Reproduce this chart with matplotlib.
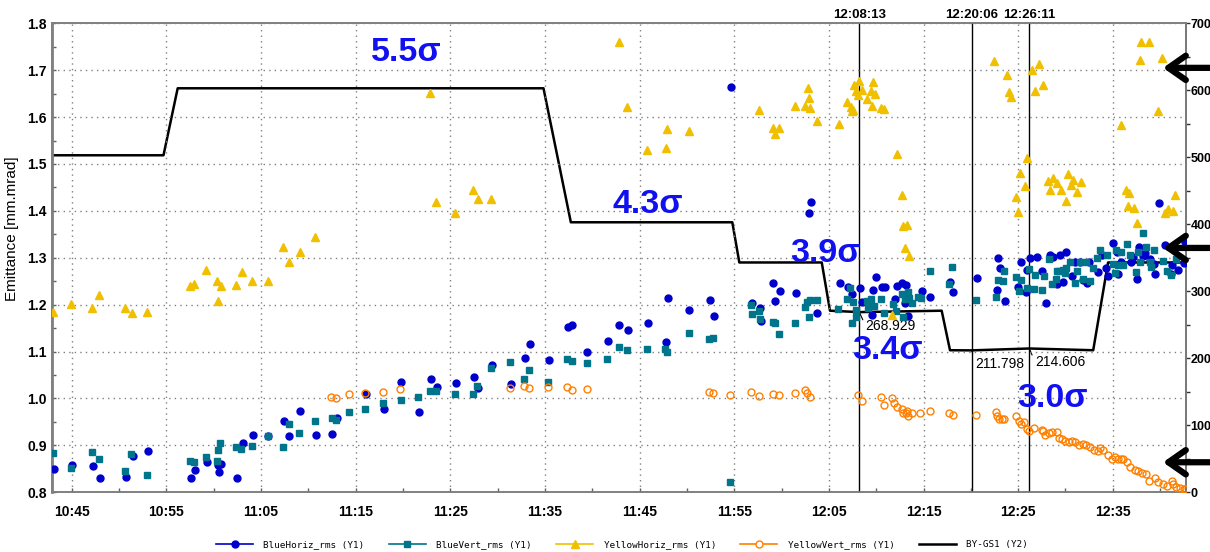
import matplotlib
matplotlib.use("Agg")
import matplotlib.pyplot as plt
from matplotlib.lines import Line2D
from matplotlib.ticker import MultipleLocator, FuncFormatter
import matplotlib.transforms as mtransforms

# Time axis: minutes past 10:00
blue_h_min = [43.1, 45.05, 47.27, 48.04, 50.75, 51.45, 53.07, 57.65, 58.04, 59.3, 60.42, 60.53, 60.81,
              62.5, 63.06, 64.12, 65.75, 67.43, 68.0, 69.16, 70.81, 72.54, 73.06, 76.09, 78.0, 79.82,
              81.65, 82.92, 83.62, 85.56, 87.5, 87.95, 89.4, 91.44, 92.92, 93.41, 95.45, 97.42, 97.91,
              99.49, 101.65, 102.87, 103.76, 105.87, 107.8, 107.98, 110.23, 112.45, 112.87, 114.64,
              116.92, 117.73, 117.84, 119.14, 119.35, 119.81, 121.5, 122.87, 123.08, 123.8, 126.13,
              127.03, 127.45, 128.24, 128.53, 129.2, 129.61, 129.63, 129.93, 130.65, 130.9, 131.99,
              132.22, 132.76, 133.04, 133.18, 133.39, 134.79, 135.71, 137.8, 138.16, 140.68, 142.72,
              142.86, 143.07, 143.6, 144.97, 145.32, 145.79, 145.89, 146.27, 146.95, 147.54, 147.93,
              148.35, 148.7, 149.15, 149.38, 149.76, 150.04, 150.68, 151.03, 151.52, 151.81, 152.29,
              152.44, 153.45, 153.81, 154.24, 154.51, 155.01, 155.4, 155.57, 155.88, 156.94, 157.12,
              157.51, 157.78, 158.14, 158.42, 158.91, 159.37, 159.51, 159.86, 160.5, 161.2, 161.27,
              161.9, 162.47, 162.64]
blue_h_val = [0.849, 0.858, 0.855, 0.831, 0.833, 0.877, 0.888, 0.831, 0.847, 0.864, 0.858, 0.843, 0.861,
              0.831, 0.904, 0.922, 0.921, 0.951, 0.919, 0.974, 0.922, 0.925, 0.959, 1.010, 0.978, 1.035,
              0.971, 1.042, 1.025, 1.032, 1.046, 1.022, 1.072, 1.031, 1.086, 1.117, 1.081, 1.152, 1.156,
              1.099, 1.123, 1.156, 1.145, 1.160, 1.121, 1.215, 1.189, 1.209, 1.176, 1.665,
              1.203, 1.192, 1.165, 1.246, 1.207, 1.229, 1.225, 1.395, 1.420, 1.182, 1.246,
              1.238, 1.223, 1.235, 1.206, 1.197, 1.178, 1.231, 1.258, 1.238, 1.238, 1.213,
              1.240, 1.246, 1.204, 1.243, 1.175, 1.229, 1.217, 1.249, 1.226, 1.256, 1.231,
              1.299, 1.278, 1.207, 1.237, 1.290, 1.226, 1.275, 1.300, 1.302, 1.272, 1.203,
              1.307, 1.302, 1.245, 1.305, 1.248, 1.312, 1.262, 1.291, 1.292, 1.252, 1.247,
              1.292, 1.270, 1.307, 1.278, 1.261, 1.332, 1.313, 1.266, 1.290, 1.291, 1.302,
              1.255, 1.322, 1.304, 1.311, 1.297, 1.287, 1.265, 1.416, 1.328, 1.265, 1.285,
              1.273, 1.288, 1.334]

blue_v_min = [43.0, 44.94, 47.19, 47.93, 50.65, 51.31, 52.97, 57.54, 57.89, 59.2, 60.36, 60.42, 60.71,
              62.4, 62.93, 64.06, 65.7, 67.33, 67.92, 69.05, 70.71, 72.46, 72.96, 74.33, 76.02, 77.89,
              79.75, 81.58, 82.81, 83.49, 85.45, 87.39, 87.85, 89.29, 91.36, 92.81, 93.31, 95.31, 97.35,
              97.85, 99.43, 101.54, 102.81, 103.69, 105.8, 107.73, 107.91, 110.2, 112.38, 112.77,
              114.53, 116.81, 116.92, 117.62, 117.7, 119.05, 119.26, 119.74, 121.4, 122.45, 122.69,
              122.85, 123.01, 123.73, 126.0, 126.92, 127.24, 127.45, 127.55, 127.82, 127.9, 129.06,
              129.1, 129.42, 129.77, 130.51, 130.83, 131.78, 132.06, 132.72, 132.8, 133.07, 133.36,
              133.5, 133.78, 134.41, 134.7, 135.65, 137.69, 138.04, 140.54, 142.62, 142.9, 143.39,
              143.53, 144.8, 145.05, 145.26, 145.93, 146.17, 146.66, 146.77, 147.48, 147.72, 148.22,
              148.53, 148.96, 149.07, 149.34, 149.69, 149.94, 150.01, 150.5, 151.02, 151.17, 151.52,
              151.81, 152.12, 152.58, 152.93, 153.35, 153.67, 154.4, 155.04, 155.22, 155.32, 155.57,
              155.82, 156.06, 156.45, 156.83, 157.43, 157.64, 157.85, 158.2, 158.49, 158.91, 159.02,
              159.37, 160.32, 160.68, 161.2, 161.73]
blue_v_val = [0.884, 0.852, 0.886, 0.870, 0.845, 0.882, 0.837, 0.867, 0.864, 0.876, 0.866, 0.890, 0.904,
              0.896, 0.892, 0.898, 0.921, 0.896, 0.945, 0.927, 0.953, 0.958, 0.954, 0.972, 0.978, 0.990,
              0.996, 1.003, 1.015, 1.017, 1.009, 1.009, 1.027, 1.064, 1.078, 1.041, 1.060, 1.035, 1.084,
              1.080, 1.076, 1.084, 1.110, 1.103, 1.106, 1.106, 1.100, 1.140, 1.127, 1.130,
              0.821, 1.199, 1.180, 1.187, 1.170, 1.164, 1.160, 1.137, 1.160, 1.195, 1.205,
              1.174, 1.211, 1.211, 1.191, 1.213, 1.235, 1.162, 1.206, 1.174, 1.189, 1.208,
              1.192, 1.212, 1.197, 1.212, 1.182, 1.202, 1.187, 1.223, 1.174, 1.213, 1.226,
              1.214, 1.203, 1.216, 1.214, 1.271, 1.244, 1.281, 1.211, 1.217, 1.253, 1.251,
              1.272, 1.258, 1.229, 1.252, 1.235, 1.277, 1.233, 1.263, 1.232, 1.262, 1.298,
              1.244, 1.254, 1.271, 1.272, 1.275, 1.267, 1.278, 1.292, 1.247, 1.272, 1.292,
              1.255, 1.291, 1.251, 1.279, 1.299, 1.317, 1.305, 1.286, 1.268, 1.317, 1.285,
              1.312, 1.285, 1.330, 1.307, 1.270, 1.312, 1.290, 1.353, 1.322, 1.290, 1.281,
              1.317, 1.294, 1.272, 1.263, 1.297]

yellow_h_min = [43.0, 44.97, 47.19, 47.93, 50.68, 51.38, 53.0, 57.54, 57.96, 59.2, 60.39, 60.5, 60.74,
                62.4, 62.98, 64.06, 65.7, 67.33, 67.92, 69.08, 70.74, 82.85, 83.52, 85.45, 87.42, 87.88,
                89.32, 102.81, 103.69, 105.8, 107.77, 107.91, 110.2, 117.66, 119.07, 119.28, 119.77,
                121.43, 122.5, 122.77, 122.87, 123.06, 123.75, 126.07, 126.92, 127.34, 127.48, 127.6,
                127.63, 127.84, 128.1, 128.23, 128.5, 129.05, 129.42, 129.59, 129.64, 129.84, 130.49,
                130.8, 131.67, 132.2, 132.73, 132.8, 133.23, 133.03, 133.43, 142.48, 143.87, 144.05,
                144.26, 144.74, 144.94, 145.24, 145.72, 145.9, 146.51, 146.77, 147.23, 147.64, 148.12,
                148.33, 148.69, 149.12, 149.57, 150.02, 150.24, 150.55, 150.84, 151.23, 151.65, 155.91,
                156.44, 156.75, 156.65, 157.21, 157.56, 157.91, 157.99, 158.79, 159.78, 160.2, 160.55,
                160.84, 161.32, 161.61]
yellow_h_val = [1.185, 1.202, 1.193, 1.221, 1.192, 1.182, 1.185, 1.240, 1.245, 1.274, 1.250, 1.207, 1.239,
                1.243, 1.270, 1.251, 1.251, 1.324, 1.290, 1.313, 1.344, 1.651, 1.420, 1.395, 1.444, 1.425,
                1.425, 1.760, 1.622, 1.529, 1.534, 1.575, 1.571, 1.615, 1.577, 1.565, 1.577,
                1.623, 1.624, 1.661, 1.640, 1.620, 1.591, 1.585, 1.632, 1.622, 1.612, 1.616,
                1.669, 1.655, 1.647, 1.677, 1.657, 1.638, 1.656, 1.624, 1.675, 1.649, 1.620,
                1.618, 1.177, 1.521, 1.433, 1.368, 1.369, 1.320, 1.304, 1.720, 1.690, 1.654,
                1.643, 1.430, 1.398, 1.481, 1.454, 1.513, 1.700, 1.656, 1.713, 1.668, 1.464,
                1.445, 1.470, 1.460, 1.445, 1.421, 1.479, 1.456, 1.466, 1.440, 1.462, 1.584,
                1.445, 1.438, 1.411, 1.406, 1.375, 1.722, 1.761, 1.760, 1.613, 1.726, 1.395,
                1.404, 1.400, 1.434]

yellow_v_min = [72.43, 72.96, 74.3, 76.02, 77.89, 79.72, 91.36, 92.74, 93.31, 95.31, 97.35, 97.85, 99.43,
                112.38, 112.77, 114.53, 116.81, 117.62, 119.07, 119.7, 121.39, 122.43, 122.73, 123.04,
                128.05, 128.47, 130.48, 130.79, 131.64, 131.85, 132.16, 132.69, 132.86, 133.18, 133.29,
                133.39, 133.81, 134.63, 135.65, 137.69, 138.08, 140.57, 142.62, 142.79, 143.0, 143.28,
                143.53, 144.8, 145.05, 145.26, 145.64, 145.89, 146.17, 146.7, 147.48, 147.65, 147.86,
                148.28, 148.6, 149.06, 149.34, 149.65, 149.94, 150.33, 150.64, 151.02, 151.45, 151.81,
                152.16, 152.58, 153.0, 153.39, 153.6, 153.98, 154.48, 154.9, 155.25, 155.5, 155.85,
                156.03, 156.52, 156.87, 157.33, 157.68, 158.04, 158.49, 158.84, 159.41, 159.73, 160.32,
                160.74, 161.24, 161.37, 161.73, 162.08, 162.5, 162.64]
yellow_v_val = [1.003, 1.002, 1.010, 1.012, 1.014, 1.020, 1.023, 1.027, 1.022, 1.025, 1.025, 1.019, 1.020,
                1.013, 1.011, 1.007, 1.013, 1.006, 1.010, 1.007, 1.011, 1.018, 1.011, 1.004,
                1.007, 0.995, 1.004, 0.986, 1.000, 0.991, 0.982, 0.978, 0.970, 0.968, 0.974,
                0.963, 0.970, 0.970, 0.973, 0.970, 0.965, 0.965, 0.972, 0.963, 0.956, 0.957,
                0.956, 0.963, 0.951, 0.945, 0.949, 0.934, 0.931, 0.936, 0.932, 0.930, 0.922,
                0.926, 0.929, 0.929, 0.916, 0.914, 0.910, 0.908, 0.909, 0.907, 0.901, 0.903,
                0.900, 0.896, 0.890, 0.887, 0.894, 0.891, 0.879, 0.872, 0.875, 0.870, 0.870,
                0.870, 0.864, 0.853, 0.848, 0.845, 0.841, 0.838, 0.823, 0.831, 0.821, 0.818,
                0.813, 0.824, 0.817, 0.812, 0.809, 0.807, 0.807]

# BY-GS1 gap setting (right axis)
gs_min = [43.0, 54.7, 56.2, 94.85, 97.74, 114.8, 115.54, 124.25, 125.12, 128.22, 136.92, 137.8, 140.1,
          146.18, 152.93, 154.5, 162.7]
gs_val = [503, 503, 603, 603, 403, 403, 343, 343, 271, 268.929, 271, 212, 211.798,
          214.606, 212, 343, 343]

# Cursor markers
cursor_min = [128.22, 140.1, 146.18]
cursor_lbl = ["12:08:13", "12:20:06", "12:26:11"]

# Sigma annotations (time, emittance baseline)
sigma_lbl = ["5.5σ", "4.3σ", "3.9σ", "3.4σ", "3.0σ"]
sigma_min = [80.3, 105.9, 124.6, 131.2, 148.6]
sigma_val = [1.720, 1.3945, 1.291, 1.0836, 0.9825]

# Labelled gap values
val_min = [128.22, 140.1, 146.18]
val_gs = [268.929, 211.798, 214.606]
val_off = [(4.5, -10), (2.5, -9.5), (4, -9.5)]

# Arrow levels on the right edge (emittance)
arrow_val = [1.705, 1.321, 0.864]

C_BH = "#0000cc"
C_BV = "#00748a"
C_YH = "#f0c000"
C_YV = "#ff8000"

plt.rcParams["font.family"] = ["Liberation Sans", "DejaVu Sans"]

fig = plt.figure(figsize=(12.1, 5.52), dpi=100)
ax = fig.add_axes([0.0432, 0.1082, 0.9367, 0.8496])
ax2 = ax.twinx()
ax.set_zorder(ax2.get_zorder() + 1)
ax.patch.set_visible(False)

ax.set_xlim(42.95, 162.7)
ax.set_ylim(0.8, 1.8)
ax2.set_ylim(0, 700)

# grid and ticks
ax.xaxis.set_minor_locator(MultipleLocator(5))
ax.set_xticks([45 + 10 * i for i in range(12)])
ax.xaxis.set_major_formatter(FuncFormatter(
    lambda m, p: f"{10 + int(m // 60)}:{int(round(m % 60)):02d}"))
ax.yaxis.set_major_locator(MultipleLocator(0.1))
ax.yaxis.set_minor_locator(MultipleLocator(0.05))
ax.yaxis.set_major_formatter(FuncFormatter(lambda v, p: f"{v:.1f}"))
ax2.yaxis.set_major_locator(MultipleLocator(100))
ax2.yaxis.set_minor_locator(MultipleLocator(50))

ax.grid(True, which="major", color="#808080", linestyle=(0, (1, 3)), linewidth=1.0)
ax.tick_params(axis="both", which="both", direction="in", length=3, width=1, color="#606060",
               labelsize=10)
ax.tick_params(axis="x", pad=9)
ax.tick_params(axis="y", pad=4)
ax2.tick_params(axis="y", which="both", direction="out", length=3, width=1, color="#303030",
                labelsize=9, pad=0.5)
for t in ax.get_xticklabels() + ax.get_yticklabels() + ax2.get_yticklabels():
    t.set_fontweight("bold")

for a in (ax, ax2):
    for s in a.spines.values():
        s.set_color("#808080")
        s.set_linewidth(1.2)
ax.spines["left"].set_linewidth(2)
ax2.spines["right"].set_color("#404040")

# gap setting trace
ax2.plot(gs_min, gs_val, color="black", linewidth=1.8, zorder=2)

# cursors
cur_tf = mtransforms.blended_transform_factory(ax.transData, ax.transAxes)
for m, lbl in zip(cursor_min, cursor_lbl):
    ax.axvline(m, color="black", linewidth=1.0, zorder=1)
    ax.text(m, 1.004, lbl, transform=cur_tf, ha="center", va="bottom", fontsize=9.5,
            fontweight="bold")

# emittance series
ax.plot(blue_h_min, blue_h_val, linestyle="none", marker="o", ms=5, color=C_BH, mec=C_BH, zorder=3)
ax.plot(blue_v_min, blue_v_val, linestyle="none", marker="s", ms=5, color=C_BV, mec=C_BV, zorder=3)
ax.plot(yellow_h_min, yellow_h_val, linestyle="none", marker="^", ms=6, color=C_YH, mec=C_YH, zorder=3)
ax.plot(yellow_v_min, yellow_v_val, linestyle="none", marker="o", ms=5, mfc="none", mec=C_YV,
        mew=1.0, zorder=3)

# sigma labels
for lbl, m, v in zip(sigma_lbl, sigma_min, sigma_val):
    ax.text(m, v, lbl, ha="center", va="baseline", color="#1010f0", fontsize=24.5,
            fontweight="bold", zorder=5)

# gap value labels
for m, g, off in zip(val_min, val_gs, val_off):
    ax2.annotate(f"{g:.3f}", xy=(m, g), xytext=off, textcoords="offset points",
                 ha="left", va="center", fontsize=10,
                 arrowprops=dict(arrowstyle="-", color="black", lw=0.8, shrinkA=0, shrinkB=0,
                                 relpos=(0, 0.5)))

# arrows at right edge
arr_tf = mtransforms.blended_transform_factory(ax.transAxes, ax.transData)
for v in arrow_val:
    ax.annotate("", xy=(0.98, v), xycoords=arr_tf, xytext=(1.03, v), textcoords=arr_tf,
                arrowprops=dict(arrowstyle="->,head_length=0.5,head_width=0.35", lw=4.5,
                                color="black", mutation_scale=25, shrinkA=0, shrinkB=0),
                annotation_clip=False, zorder=6)

fig.text(12 / 1210, 1 - 229 / 552, "Emittance [mm.mrad]", rotation=90, ha="center", va="center",
         fontsize=11)

handles = [
    Line2D([], [], color=C_BH, marker="o", ms=5, lw=1.2),
    Line2D([], [], color=C_BV, marker="s", ms=5, lw=1.2),
    Line2D([], [], color=C_YH, marker="^", ms=6, lw=1.2),
    Line2D([], [], color=C_YV, marker="o", ms=5, mfc="white", lw=1.2),
    Line2D([], [], color="black", lw=1.8),
]
labels = ["BlueHoriz_rms (Y1)", "BlueVert_rms (Y1)", "YellowHoriz_rms (Y1)", "YellowVert_rms (Y1)",
          "BY-GS1 (Y2)"]
fig.legend(handles, labels, loc="center", bbox_to_anchor=(622 / 1210, 1 - 545 / 552), ncol=5,
           frameon=False, prop={"family": "DejaVu Sans Mono", "size": 6.7},
           handlelength=4.0, handletextpad=1.1, columnspacing=2.6, borderaxespad=0)

fig.savefig("out.png", dpi=100)
